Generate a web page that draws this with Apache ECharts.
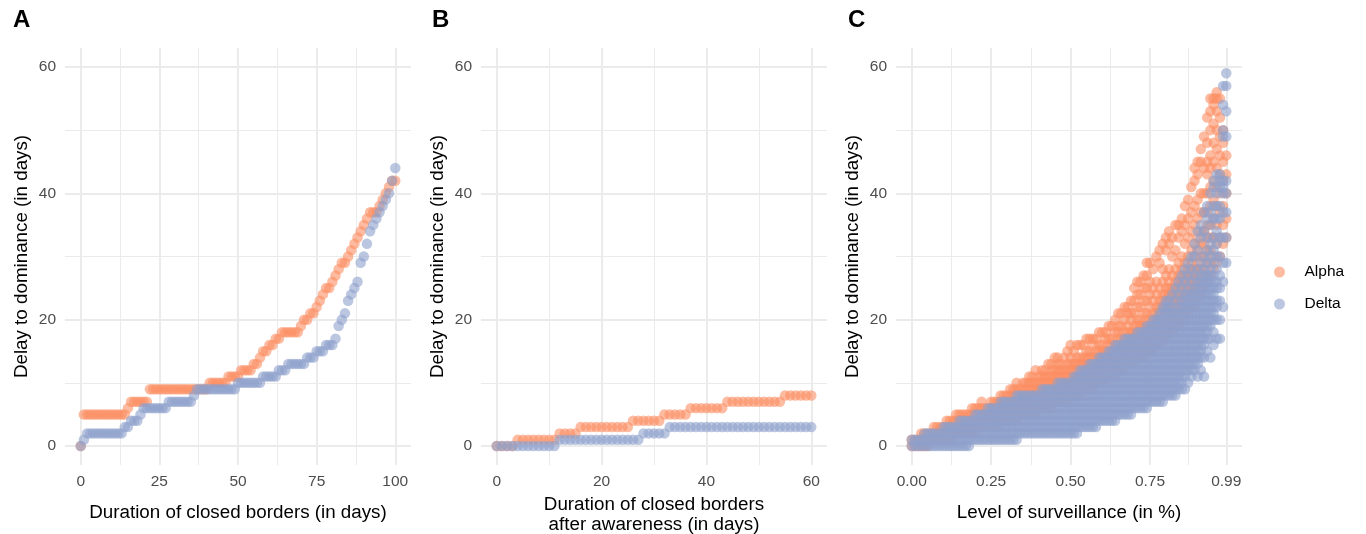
<!DOCTYPE html>
<html lang="en">
<head>
<meta charset="UTF-8">
<title>Delay to dominance</title>
<script src="https://cdn.jsdelivr.net/npm/echarts/dist/echarts.min.js"></script>
<style>
  html, body { margin: 0; padding: 0; background: #fff; }
  #chart { width: 1366px; height: 534px; }
</style>
</head>
<body>
<div id="chart"></div>
<script>
// Panel A: delay (days) for each duration of closed borders, index = day 0..100
const alphaA = [0,
  5,5,5,5,5,5,5,5,5,5,5,5,5,5,
  6,
  7,7,7,7,7,7,
  9,9,9,9,9,9,9,9,9,9,9,9,9,9,9,9,9,9,9,
  10,10,10,10,10,10,
  11,11,11,11,
  12,12,12,12,
  13,13,
  14,
  15,15,
  16,16,
  17,17,
  18,18,18,18,18,18,
  19,20,20,21,21,22,23,24,25,25,
  26,27,28,29,29,30,31,32,33,34,
  35,36,37,37,37,38,39,40,41,42,
  42];
const deltaA = [0,
  1,
  2,2,2,2,2,2,2,2,2,2,2,2,
  3,3,
  4,4,4,
  5,
  6,6,6,6,6,6,6,6,
  7,7,7,7,7,7,7,7,
  8,
  9,9,9,9,9,9,9,9,9,9,9,9,9,
  10,10,10,10,10,10,10,10,
  11,11,11,11,11,
  12,12,12,
  13,13,13,13,13,13,
  14,14,14,
  15,15,15,
  16,16,16,
  17,19,20,21,23,24,25,26,29,30,
  32,34,35,36,37,38,39,40,42,44];

// Panel B: index = day after awareness 0..60
const alphaB = [0,0,0,0,
  1,1,1,1,1,1,1,1,
  2,2,2,2,
  3,3,3,3,3,3,3,3,3,3,
  4,4,4,4,4,4,
  5,5,5,5,5,
  6,6,6,6,6,6,6,
  7,7,7,7,7,7,7,7,7,7,7,
  8,8,8,8,8,8];
const deltaB = [0,0,0,0,0,0,0,0,0,0,0,0,
  1,1,1,1,1,1,1,1,1,1,1,1,1,1,1,1,
  2,2,2,2,2,
  3,3,3,3,3,3,3,3,3,3,3,3,3,3,3,3,3,3,3,3,3,3,3,3,3,3,3,3];

// Panel C: one entry per surveillance level 0.00..0.99 (step 0.01), delays seen there
const alphaC = [
  "0 1", "0 1", "0 1", "0 1 2", "0 1 2", "0 1 2", "1 2", "1 2 3", "1 2 3", "1 2 3",
  "1 2 3", "1 2 3 4", "1 2 3 4", "1 2 3 4", "2 3 4 5", "2 3 4 5", "2 3 4 5", "2 3 4 5", "2 3 4 5", "2 3 4 5 6",
  "2 3 4 5 6", "3 4 5 6", "3 4 5 6 7", "3 4 5 6", "3 4 5 6", "3 4 5 6 7", "3 4 5 6 7", "3 4 5 6 7", "4 5 6 7 8", "4 5 6 7 8",
  "4 5 6 7 8", "4 5 6 7 8 9", "4 5 6 7 8 9", "4 5 6 7 8 9 10", "5 6 7 8 9", "5 6 7 8 9 10", "5 6 7 8 9 10", "5 6 7 8 9 10 11", "5 6 7 8 9 10 11", "5 6 7 8 9 10 12",
  "6 7 8 9 10 11", "6 7 8 9 10 11 12", "6 7 8 9 10 11 12", "6 7 8 9 10 11 13", "6 7 8 9 10 11 12 13", "7 8 9 10 11 12 14", "7 8 9 10 11 12 13 14", "7 8 9 10 11 12 13", "7 8 9 10 11 12 14", "7 8 9 10 11 12 13 15",
  "8 9 10 11 12 13 14 16", "8 9 10 11 12 13 15", "8 9 10 11 12 13 14 16", "8 9 10 11 12 13 14 16", "9 10 11 12 13 14 16", "9 10 11 12 13 14 15 17", "9 10 11 12 13 14 15 17", "9 10 11 12 13 14 16 17", "10 11 12 13 14 15 17", "10 11 12 13 14 15 16 18",
  "10 11 12 13 14 15 16 18", "10 11 12 13 14 15 17 18", "11 12 13 14 15 16 17 19", "11 12 13 14 15 16 17 19", "11 12 13 14 15 16 18 20", "12 13 14 15 16 17 18 19 21", "12 13 14 15 16 17 19 21", "12 13 14 15 16 17 18 20 22", "13 14 15 16 17 18 19 21 22", "13 14 15 16 17 18 20 21 23",
  "13 14 15 16 17 18 19 21 23 25", "14 15 16 17 18 19 20 22 24 26", "14 15 16 17 18 19 20 22 24 26", "14 15 16 17 18 19 21 23 25 27", "15 16 17 18 19 20 21 23 25 27 29", "15 16 17 18 19 20 22 24 26 29", "15 16 17 18 19 20 21 23 25 28", "16 17 18 19 20 21 22 24 26 30", "16 17 18 19 20 21 22 23 25 29 31", "17 18 19 20 21 22 23 24 26 28 32",
  "17 18 19 20 21 22 23 24 25 27 31 33", "18 19 20 21 22 23 24 25 26 28 32 34", "18 19 20 21 22 23 24 25 27 30 33", "19 20 21 22 23 24 25 26 28 31 35", "19 20 21 22 23 24 25 26 27 29 33 35", "20 21 22 23 24 25 26 27 28 30 34 36", "20 21 22 23 24 25 26 27 29 32 35 38", "21 22 23 24 25 26 27 28 30 33 36 39", "22 23 24 25 26 27 28 29 31 34 37 41", "22 23 24 25 26 27 28 30 32 35 38 42 44",
  "23 24 25 26 27 28 29 31 33 36 39 43 45", "24 25 26 27 28 30 32 34 37 40 45 47", "25 26 27 28 30 32 34 37 40 44 49", "26 27 29 31 33 35 37 40 43 45 48 52", "27 29 31 33 35 38 41 44 46 50 53 55", "28 30 33 36 39 42 45 48 51 54 55", "29 32 35 38 41 44 47 50 53 55 56", "30 33 37 40 43 46 49 52 55", "32 35 38 42 45 48 50", "33 36 40 43 46"
];
const deltaC = [
  "0 1", "0 1", "0 1", "0 1", "0 1 2", "0 1 2", "0 1 2", "0 1 2", "0 1 2", "0 1 2",
  "0 1 2 3", "0 1 2 3", "0 1 2 3", "0 1 2 3", "0 1 2 3", "0 1 2 3 4", "0 1 2 3 4", "0 1 2 3 4", "0 1 2 3 4", "1 2 3 4",
  "1 2 3 4 5", "1 2 3 4 5", "1 2 3 4 5", "1 2 3 4 5", "1 2 3 4 5 6", "1 2 3 4 5 6", "1 2 3 4 5 6", "1 2 3 4 5 6", "1 2 3 4 5 6 7", "1 2 3 4 5 6 7",
  "1 2 3 4 5 6 7", "1 2 3 4 5 6 7", "1 2 3 4 5 6 7", "1 2 3 4 5 6 7 8", "2 3 4 5 6 7 8", "2 3 4 5 6 7 8", "2 3 4 5 6 7 8", "2 3 4 5 6 7 8", "2 3 4 5 6 7 8", "2 3 4 5 6 7 8",
  "2 3 4 5 6 7 8", "2 3 4 5 6 7 8 9", "2 3 4 5 6 7 8 9", "2 3 4 5 6 7 8 9", "2 3 4 5 6 7 8 9", "2 3 4 5 6 7 8 9", "2 3 4 5 6 7 8 9 10", "2 3 4 5 6 7 8 9 10", "2 3 4 5 6 7 8 9 10", "2 3 4 5 6 7 8 9 10",
  "2 3 4 5 6 7 8 9 10", "2 3 4 5 6 7 8 9 10 11", "2 3 4 5 6 7 8 9 10 11", "3 4 5 6 7 8 9 10 11 12", "3 4 5 6 7 8 9 10 11 12", "3 4 5 6 7 8 9 10 11 12", "3 4 5 6 7 8 9 10 11 12 13", "3 4 5 6 7 8 9 10 11 12 13", "3 4 5 6 7 8 9 10 11 12 13", "4 5 6 7 8 9 10 11 12 13 14",
  "4 5 6 7 8 9 10 11 12 13 14", "4 5 6 7 8 9 10 11 12 13 14", "4 5 6 7 8 9 10 11 12 13 14 15", "4 5 6 7 8 9 10 11 12 13 14 15", "4 5 6 7 8 9 10 11 12 13 14 15 16", "5 6 7 8 9 10 11 12 13 14 15 16", "5 6 7 8 9 10 11 12 13 14 15 16", "5 6 7 8 9 10 11 12 13 14 15 16 17", "5 6 7 8 9 10 11 12 13 14 15 16 17", "5 6 7 8 9 10 11 12 13 14 15 16 17",
  "6 7 8 9 10 11 12 13 14 15 16 17", "6 7 8 9 10 11 12 13 14 15 16 17 18", "6 7 8 9 10 11 12 13 14 15 16 17 18", "6 7 8 9 10 11 12 13 14 15 16 17 18", "6 7 8 9 10 11 12 13 14 15 16 17 18 19", "7 8 9 10 11 12 13 14 15 16 17 18 19", "7 8 9 10 11 12 13 14 15 16 17 18 19 20", "7 8 9 10 11 12 13 14 15 16 17 18 19 20", "7 8 9 10 11 12 13 14 15 16 17 18 19 20 21", "7 8 9 10 11 12 13 14 15 16 17 18 19 20 21 22",
  "8 9 10 11 12 13 14 15 16 17 18 19 20 21 22 23", "8 9 10 11 12 13 14 15 16 17 18 19 20 21 22 23", "8 9 10 11 12 13 14 15 16 17 18 19 20 21 22 24", "8 9 10 11 12 13 14 15 16 17 18 19 20 21 23 25", "9 10 11 12 13 14 15 16 17 18 19 20 21 22 24 26", "9 10 11 12 13 14 15 16 17 18 19 20 21 22 23 25 27", "9 11 12 13 14 15 16 17 18 19 20 21 22 23 24 26 28", "10 12 13 14 15 16 17 18 19 20 21 22 23 24 25 27 29", "11 12 13 14 15 16 17 18 19 20 21 22 23 24 26 28 30", "12 13 14 15 16 17 18 19 20 21 22 23 24 25 27 30 32",
  "11 13 14 15 16 17 18 19 20 21 22 23 24 25 26 28 31 34", "12 14 15 16 17 18 19 20 21 22 23 24 25 26 27 29 33 35", "11 14 16 17 18 19 20 21 22 23 24 25 26 27 28 30 34 37", "15 17 18 19 20 21 22 23 24 25 26 27 29 31 33 36 38", "14 17 19 20 21 22 23 24 25 26 27 28 30 32 35 37 40", "16 18 20 21 22 23 24 25 26 27 29 31 33 36 38 41 42", "17 20 22 23 25 26 28 30 32 34 36 38 40 43", "17 20 23 25 27 30 33 36 38 41 42 43", "22 26 29 33 37 40 41 42 49 50 54 57", "29 33 37 40 42 49 53 57 59"
];

const ticksA = [0, 25, 50, 75, 100], minorA = [12.5, 37.5, 62.5, 87.5];
const ticksB = [0, 20, 40, 60], minorB = [10, 30, 50];
const ticksC = [0, 0.25, 0.5, 0.75, 0.99], minorC = [0.125, 0.375, 0.625, 0.87];
const ticksY = [0, 20, 40, 60], minorY = [10, 30, 50];

const font = 'Liberation Sans';
const alphaColor = '#FC8D62';
const deltaColor = '#8DA0CB';

const panels = [
  { left: 65, min: -5, max: 105, ticks: ticksA, minor: minorA, gap: 38,
    name: 'Duration of closed borders (in days)' },
  { left: 481, min: -3, max: 63, ticks: ticksB, minor: minorB, gap: 27,
    name: 'Duration of closed borders\nafter awareness (in days)' },
  { left: 896, min: -0.0495, max: 1.0395, ticks: ticksC, minor: minorC, gap: 38,
    name: 'Level of surveillance (in %)', fmt: v => Number(v).toFixed(2) }
];

const grids = [], xAxes = [], yAxes = [];
const titleStyle = { color: '#000', fontSize: 18.8, fontFamily: font, lineHeight: 20 };
const labelStyle = { color: '#4D4D4D', fontSize: 15.5, fontFamily: font };

panels.forEach((p, i) => {
  grids.push({ left: p.left, top: 48, width: 346, height: 417, outerBoundsMode: 'none' });
  // major grid + labels
  xAxes.push({
    type: 'value', gridIndex: i, min: p.min, max: p.max,
    axisLine: { show: false },
    axisTick: { show: false, customValues: p.ticks },
    axisLabel: Object.assign({ customValues: p.ticks, margin: 9, formatter: p.fmt }, labelStyle),
    splitLine: { show: true, lineStyle: { color: '#EBEBEB', width: 2 } },
    name: p.name, nameLocation: 'middle', nameGap: p.gap, nameTextStyle: titleStyle
  });
  // minor grid
  xAxes.push({
    type: 'value', gridIndex: i, min: p.min, max: p.max, position: 'bottom',
    axisLine: { show: false },
    axisTick: { show: false, customValues: p.minor },
    axisLabel: { show: false, customValues: p.minor },
    splitLine: { show: true, lineStyle: { color: '#EBEBEB', width: 1 } }
  });
  yAxes.push({
    type: 'value', gridIndex: i, min: -3, max: 63,
    axisLine: { show: false },
    axisTick: { show: false, customValues: ticksY },
    axisLabel: Object.assign({ customValues: ticksY, margin: 9 }, labelStyle),
    splitLine: { show: true, lineStyle: { color: '#EBEBEB', width: 2 } },
    name: 'Delay to dominance (in days)', nameLocation: 'middle', nameRotate: 90,
    nameGap: 33, nameTextStyle: titleStyle
  });
  yAxes.push({
    type: 'value', gridIndex: i, min: -3, max: 63, position: 'left',
    axisLine: { show: false },
    axisTick: { show: false, customValues: minorY },
    axisLabel: { show: false, customValues: minorY },
    splitLine: { show: true, lineStyle: { color: '#EBEBEB', width: 1 } }
  });
});

function byDay(values) {
  return values.map((v, day) => [day, v]);
}
function byLevel(columns) {
  const out = [];
  columns.forEach((col, i) => {
    col.split(' ').forEach(v => out.push([i / 100, Number(v)]));
  });
  return out;
}

function dots(name, color, panel, data) {
  return {
    name: name, type: 'scatter', xAxisIndex: panel * 2, yAxisIndex: panel * 2,
    symbol: 'circle', symbolSize: 10.5, data: data,
    itemStyle: { color: color, opacity: 0.6 },
    emphasis: { disabled: true }
  };
}

const chart = echarts.init(document.getElementById('chart'));
chart.setOption({
  animation: false,
  backgroundColor: '#fff',
  grid: grids,
  xAxis: xAxes,
  yAxis: yAxes,
  legend: {
    orient: 'vertical', left: 1269, top: 259,
    itemWidth: 40, itemHeight: 11, itemGap: 16,
    icon: 'circle',
    data: ['Alpha', 'Delta'],
    textStyle: { color: '#000', fontSize: 15.5, fontFamily: font },
    itemStyle: { opacity: 0.6 }
  },
  graphic: [
    { type: 'text', x: 13, y: 20, style: { text: 'A', fill: '#000', font: 'bold 24px "Liberation Sans"', verticalAlign: 'middle' } },
    { type: 'text', x: 432, y: 20, style: { text: 'B', fill: '#000', font: 'bold 24px "Liberation Sans"', verticalAlign: 'middle' } },
    { type: 'text', x: 848, y: 20, style: { text: 'C', fill: '#000', font: 'bold 24px "Liberation Sans"', verticalAlign: 'middle' } }
  ],
  series: [
    dots('Alpha', alphaColor, 0, byDay(alphaA)),
    dots('Delta', deltaColor, 0, byDay(deltaA)),
    dots('Alpha', alphaColor, 1, byDay(alphaB)),
    dots('Delta', deltaColor, 1, byDay(deltaB)),
    dots('Alpha', alphaColor, 2, byLevel(alphaC)),
    dots('Delta', deltaColor, 2, byLevel(deltaC))
  ]
});
</script>
</body>
</html>
